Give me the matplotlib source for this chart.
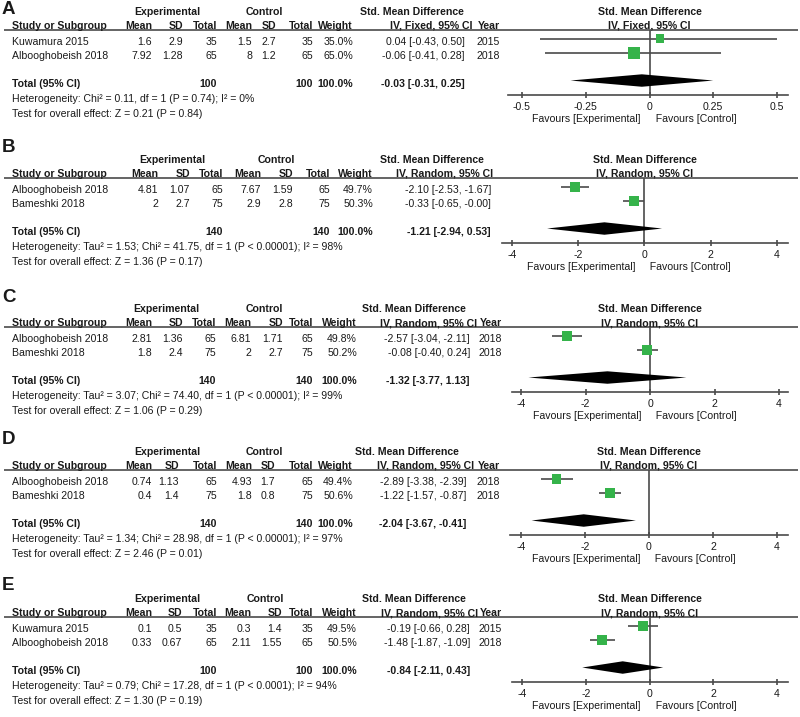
import matplotlib
matplotlib.use("Agg")
import matplotlib.pyplot as plt
from matplotlib.transforms import blended_transform_factory

plt.rcParams['font.family'] = ['Liberation Sans', 'DejaVu Sans']

# ---------------- data ----------------
# Panel A
a_studies = ["Kuwamura 2015", "Albooghobeish 2018"]
a_exp_mean = [1.6, 7.92]
a_exp_sd = [2.9, 1.28]
a_exp_n = [35, 65]
a_ctl_mean = [1.5, 8]
a_ctl_sd = [2.7, 1.2]
a_ctl_n = [35, 65]
a_weight = [35.0, 65.0]
a_smd = [0.04, -0.06]
a_lo = [-0.43, -0.41]
a_hi = [0.50, 0.28]
a_year = [2015, 2018]
a_tot_n = [100, 100]
a_tot_ci = [-0.03, -0.31, 0.25]
a_het = "Heterogeneity: Chi² = 0.11, df = 1 (P = 0.74); I² = 0%"
a_test = "Test for overall effect: Z = 0.21 (P = 0.84)"
a_method = "IV, Fixed, 95% CI"
a_ticks = [-0.5, -0.25, 0, 0.25, 0.5]
a_ticklabels = ["-0.5", "-0.25", "0", "0.25", "0.5"]

# Panel B
b_studies = ["Albooghobeish 2018", "Bameshki 2018"]
b_exp_mean = [4.81, 2]
b_exp_sd = [1.07, 2.7]
b_exp_n = [65, 75]
b_ctl_mean = [7.67, 2.9]
b_ctl_sd = [1.59, 2.8]
b_ctl_n = [65, 75]
b_weight = [49.7, 50.3]
b_smd = [-2.10, -0.33]
b_lo = [-2.53, -0.65]
b_hi = [-1.67, -0.00]
b_year = None
b_tot_n = [140, 140]
b_tot_ci = [-1.21, -2.94, 0.53]
b_het = "Heterogeneity: Tau² = 1.53; Chi² = 41.75, df = 1 (P < 0.00001); I² = 98%"
b_test = "Test for overall effect: Z = 1.36 (P = 0.17)"

# Panel C
c_studies = ["Albooghobeish 2018", "Bameshki 2018"]
c_exp_mean = [2.81, 1.8]
c_exp_sd = [1.36, 2.4]
c_exp_n = [65, 75]
c_ctl_mean = [6.81, 2]
c_ctl_sd = [1.71, 2.7]
c_ctl_n = [65, 75]
c_weight = [49.8, 50.2]
c_smd = [-2.57, -0.08]
c_lo = [-3.04, -0.40]
c_hi = [-2.11, 0.24]
c_year = [2018, 2018]
c_tot_n = [140, 140]
c_tot_ci = [-1.32, -3.77, 1.13]
c_het = "Heterogeneity: Tau² = 3.07; Chi² = 74.40, df = 1 (P < 0.00001); I² = 99%"
c_test = "Test for overall effect: Z = 1.06 (P = 0.29)"

# Panel D
d_studies = ["Albooghobeish 2018", "Bameshki 2018"]
d_exp_mean = [0.74, 0.4]
d_exp_sd = [1.13, 1.4]
d_exp_n = [65, 75]
d_ctl_mean = [4.93, 1.8]
d_ctl_sd = [1.7, 0.8]
d_ctl_n = [65, 75]
d_weight = [49.4, 50.6]
d_smd = [-2.89, -1.22]
d_lo = [-3.38, -1.57]
d_hi = [-2.39, -0.87]
d_year = [2018, 2018]
d_tot_n = [140, 140]
d_tot_ci = [-2.04, -3.67, -0.41]
d_het = "Heterogeneity: Tau² = 1.34; Chi² = 28.98, df = 1 (P < 0.00001); I² = 97%"
d_test = "Test for overall effect: Z = 2.46 (P = 0.01)"

# Panel E
e_studies = ["Kuwamura 2015", "Albooghobeish 2018"]
e_exp_mean = [0.1, 0.33]
e_exp_sd = [0.5, 0.67]
e_exp_n = [35, 65]
e_ctl_mean = [0.3, 2.11]
e_ctl_sd = [1.4, 1.55]
e_ctl_n = [35, 65]
e_weight = [49.5, 50.5]
e_smd = [-0.19, -1.48]
e_lo = [-0.66, -1.87]
e_hi = [0.28, -1.09]
e_year = [2015, 2018]
e_tot_n = [100, 100]
e_tot_ci = [-0.84, -2.11, 0.43]
e_het = "Heterogeneity: Tau² = 0.79; Chi² = 17.28, df = 1 (P < 0.0001); I² = 94%"
e_test = "Test for overall effect: Z = 1.30 (P = 0.19)"

random_method = "IV, Random, 95% CI"
random_ticks = [-4, -2, 0, 2, 4]
random_ticklabels = ["-4", "-2", "0", "2", "4"]
panel_letters = ["A", "B", "C", "D", "E"]

panels = [
    dict(studies=a_studies, em=a_exp_mean, es=a_exp_sd, en=a_exp_n, cm=a_ctl_mean, cs=a_ctl_sd,
         cn=a_ctl_n, w=a_weight, smd=a_smd, lo=a_lo, hi=a_hi, year=a_year, tn=a_tot_n,
         tci=a_tot_ci, het=a_het, test=a_test, method=a_method, ticks=a_ticks, tl=a_ticklabels),
    dict(studies=b_studies, em=b_exp_mean, es=b_exp_sd, en=b_exp_n, cm=b_ctl_mean, cs=b_ctl_sd,
         cn=b_ctl_n, w=b_weight, smd=b_smd, lo=b_lo, hi=b_hi, year=b_year, tn=b_tot_n,
         tci=b_tot_ci, het=b_het, test=b_test, method=random_method, ticks=random_ticks, tl=random_ticklabels),
    dict(studies=c_studies, em=c_exp_mean, es=c_exp_sd, en=c_exp_n, cm=c_ctl_mean, cs=c_ctl_sd,
         cn=c_ctl_n, w=c_weight, smd=c_smd, lo=c_lo, hi=c_hi, year=c_year, tn=c_tot_n,
         tci=c_tot_ci, het=c_het, test=c_test, method=random_method, ticks=random_ticks, tl=random_ticklabels),
    dict(studies=d_studies, em=d_exp_mean, es=d_exp_sd, en=d_exp_n, cm=d_ctl_mean, cs=d_ctl_sd,
         cn=d_ctl_n, w=d_weight, smd=d_smd, lo=d_lo, hi=d_hi, year=d_year, tn=d_tot_n,
         tci=d_tot_ci, het=d_het, test=d_test, method=random_method, ticks=random_ticks, tl=random_ticklabels),
    dict(studies=e_studies, em=e_exp_mean, es=e_exp_sd, en=e_exp_n, cm=e_ctl_mean, cs=e_ctl_sd,
         cn=e_ctl_n, w=e_weight, smd=e_smd, lo=e_lo, hi=e_hi, year=e_year, tn=e_tot_n,
         tci=e_tot_ci, het=e_het, test=e_test, method=random_method, ticks=random_ticks, tl=random_ticklabels),
]

# ---------------- layout (pixels) ----------------
W, H = 800, 717
header_y = [12, 160, 309, 452, 599]
letter_y = [9, 147, 298, 440, 586]
# right edges: mean, sd, n, cmean, csd, cn, weight, ci values, ci header, year ; centres: exp, ctl, smd
cols = [
    (152, 183, 217, 252, 276, 313, 353, 465, 473, 500, 167, 264, 412),
    (158, 190, 223, 261, 293, 330, 373, 491, 493, None, 172, 276, 432),
    (152, 183, 216, 251, 283, 313, 357, 470, 477, 502, 166, 264, 414),
    (152, 179, 217, 252, 275, 313, 353, 466, 474, 500, 167, 264, 407),
    (152, 182, 217, 251, 282, 313, 357, 470, 478, 502, 167, 265, 414),
]
tick_px = [(522, 777), (512, 777), (521, 779), (521, 777), (522, 777)]
line_px = [(508, 788), (502, 788), (512, 788), (510, 788), (512, 788)]

TXT = '#1a1a1a'
LINE = '#4a4a4a'
GREEN = '#35b34a'
FS = 7.6

fig = plt.figure(figsize=(W / 100, H / 100), dpi=100)
bg = fig.add_axes([0, 0, 1, 1])
bg.set_xlim(0, W)
bg.set_ylim(H, 0)
bg.axis('off')


def t(x, y, s, ha='left', bold=False, size=FS):
    bg.text(x, y, s, ha=ha, va='center', fontsize=size, color=TXT,
            fontweight='bold' if bold else 'normal')


for k, p in enumerate(panels):
    y0 = header_y[k]
    c = cols[k]
    (xm, xs, xn, xcm, xcs, xcn, xw, xci, xcih, xyr, cexp, cctl, csmd) = c
    t(2, letter_y[k], panel_letters[k], bold=True, size=13.5)
    # headers
    t(cexp, y0, "Experimental", ha='center', bold=True)
    t(cctl, y0, "Control", ha='center', bold=True)
    t(csmd, y0, "Std. Mean Difference", ha='center', bold=True)
    h2 = y0 + 14
    t(12, h2, "Study or Subgroup", bold=True)
    for x, s in [(xm, "Mean"), (xs, "SD"), (xn, "Total"), (xcm, "Mean"), (xcs, "SD"),
                 (xcn, "Total"), (xw, "Weight"), (xcih, p['method'])]:
        t(x, h2, s, ha='right', bold=True)
    if xyr is not None:
        t(xyr, h2, "Year", ha='right', bold=True)
    bg.hlines(y0 + 18, 4, 798, color=LINE, lw=1.2)
    # study rows
    for i, name in enumerate(p['studies']):
        yy = y0 + 30 + 14 * i
        t(12, yy, name)
        t(xm, yy, f"{p['em'][i]:g}", ha='right')
        t(xs, yy, f"{p['es'][i]:g}", ha='right')
        t(xn, yy, f"{p['en'][i]}", ha='right')
        t(xcm, yy, f"{p['cm'][i]:g}", ha='right')
        t(xcs, yy, f"{p['cs'][i]:g}", ha='right')
        t(xcn, yy, f"{p['cn'][i]}", ha='right')
        t(xw, yy, f"{p['w'][i]:.1f}%", ha='right')
        t(xci, yy, f"{p['smd'][i]:.2f} [{p['lo'][i]:.2f}, {p['hi'][i]:.2f}]", ha='right')
        if p['year'] is not None:
            t(xyr, yy, f"{p['year'][i]}", ha='right')
    yt = y0 + 72
    t(12, yt, "Total (95% CI)", bold=True)
    t(xn, yt, f"{p['tn'][0]}", ha='right', bold=True)
    t(xcn, yt, f"{p['tn'][1]}", ha='right', bold=True)
    t(xw, yt, f"{sum(p['w']):.1f}%", ha='right', bold=True)
    e, l, h = p['tci']
    t(xci, yt, f"{e:.2f} [{l:.2f}, {h:.2f}]", ha='right', bold=True)
    t(12, y0 + 87, p['het'])
    t(12, y0 + 102, p['test'])

    # forest plot axes
    (tp0, tp1) = tick_px[k]
    (lp0, lp1) = line_px[k]
    v0, v1 = p['ticks'][0], p['ticks'][-1]
    scale = (tp1 - tp0) / (v1 - v0)
    top_px, bot_px = y0 + 18, y0 + 83
    ax = fig.add_axes([lp0 / W, 1 - bot_px / H, (lp1 - lp0) / W, (bot_px - top_px) / H])
    ax.set_xlim(v0 + (lp0 - tp0) / scale, v1 + (lp1 - tp1) / scale)
    ax.set_ylim(3.9, -0.59)
    ax.patch.set_visible(False)
    for sp in ['top', 'left', 'right']:
        ax.spines[sp].set_visible(False)
    ax.spines['bottom'].set_color(LINE)
    ax.spines['bottom'].set_linewidth(1.2)
    ax.set_yticks([])
    ax.set_xticks(p['ticks'])
    ax.set_xticklabels(p['tl'])
    ax.tick_params(axis='x', direction='inout', length=5, width=1.2, color=LINE,
                   labelsize=FS, labelcolor=TXT, pad=2.6)
    ax.axvline(0, color=LINE, lw=1.2, zorder=1)
    rows = list(range(len(p['studies'])))
    ax.hlines(rows, p['lo'], p['hi'], color=LINE, lw=1.2, zorder=2)
    sizes = [(1.02 * wv ** 0.5) ** 2 for wv in p['w']]
    ax.scatter(p['smd'], rows, s=sizes, marker='s', color=GREEN, edgecolors='none',
               zorder=3, clip_on=False)
    yd, hd = 2.9, 0.43
    ax.fill([l, e, h, e], [yd, yd - hd, yd, yd + hd], color='black', lw=0, zorder=3)
    # forest header & favours
    tr = blended_transform_factory(ax.transData, bg.transData)
    for yy, s in [(y0, "Std. Mean Difference"), (y0 + 14, p['method'])]:
        bg.text(0, yy, s, transform=tr, ha='center', va='center', fontsize=FS,
                fontweight='bold', color=TXT)
    bg.text(0, y0 + 107, "Favours [Experimental]   ", transform=tr, ha='right', va='center',
            fontsize=FS, color=TXT)
    bg.text(0, y0 + 107, "  Favours [Control]", transform=tr, ha='left', va='center',
            fontsize=FS, color=TXT)

fig.savefig("out.png", dpi=100)
